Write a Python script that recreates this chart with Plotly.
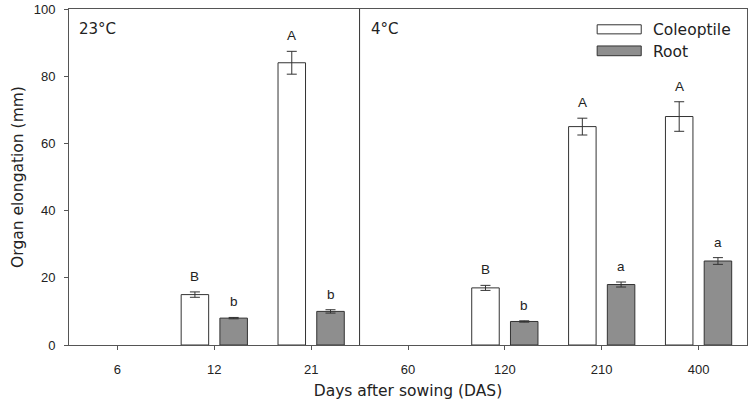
import plotly.graph_objects as go

categories = ["6", "12", "21", "60", "120", "210", "400"]
coleoptile = [None, 15, 84, None, 17, 65, 68]
coleoptile_err = [None, 0.8, 3.4, None, 0.75, 2.5, 4.4]
root = [None, 8, 10, None, 7, 18, 25]
root_err = [None, 0.2, 0.5, None, 0.2, 0.75, 1.0]
coleoptile_letters = [None, "B", "A", None, "B", "A", "A"]
root_letters = [None, "b", "b", None, "b", "a", "a"]
panels = ["23°C", "4°C"]
series_names = ["Coleoptile", "Root"]

FONT = "Liberation Sans, Arial, sans-serif"
WIDE = "DejaVu Sans, Liberation Sans, sans-serif"
TXT = "#222222"
AX = "#555555"
EDGE = "#333333"
ROOT_FILL = "#8e8e8e"

fig = go.Figure()
fig.add_bar(
    x=categories, y=coleoptile, name=series_names[0],
    marker=dict(color="white", line=dict(color=EDGE, width=1)),
    error_y=dict(type="data", array=coleoptile_err, color=EDGE, thickness=1, width=5),
)
fig.add_bar(
    x=categories, y=root, name=series_names[1],
    marker=dict(color=ROOT_FILL, line=dict(color=EDGE, width=1)),
    error_y=dict(type="data", array=root_err, color=EDGE, thickness=1, width=5),
)

annotations = []
for i, c in enumerate(categories):
    for vals, errs, letters, off in ((coleoptile, coleoptile_err, coleoptile_letters, -19.5),
                                     (root, root_err, root_letters, 19.5)):
        if vals[i] is None:
            continue
        annotations.append(dict(
            x=i, y=vals[i] + errs[i], xref="x", yref="y", text=letters[i],
            showarrow=False, xanchor="center", yanchor="bottom", xshift=off, yshift=6,
            font=dict(family=FONT, size=13.5, color=TXT),
        ))

# panel labels
annotations.append(dict(x=0.012, y=0.94, xref="x domain", yref="y domain", text=panels[0],
                        showarrow=False, xanchor="left", yanchor="middle",
                        font=dict(family=WIDE, size=15, color=TXT)))
annotations.append(dict(x=(369 - 69) / 679, y=0.94, xref="x domain", yref="y domain", text=panels[1],
                        showarrow=False, xanchor="left", yanchor="middle",
                        font=dict(family=WIDE, size=15, color=TXT)))

# legend texts
annotations.append(dict(x=0.859, y=0.938, xref="x domain", yref="y domain", text=series_names[0],
                        showarrow=False, xanchor="left", yanchor="middle",
                        font=dict(family=WIDE, size=15.5, color=TXT)))
annotations.append(dict(x=0.859, y=0.872, xref="x domain", yref="y domain", text=series_names[1],
                        showarrow=False, xanchor="left", yanchor="middle",
                        font=dict(family=WIDE, size=15.5, color=TXT)))

shapes = [
    dict(type="line", xref="x", yref="y domain", x0=2.5, x1=2.5, y0=0, y1=1,
         line=dict(color=EDGE, width=1)),
    dict(type="rect", xref="x domain", yref="y domain", x0=0.779, x1=0.844, y0=0.926, y1=0.953,
         fillcolor="white", line=dict(color=EDGE, width=1)),
    dict(type="rect", xref="x domain", yref="y domain", x0=0.779, x1=0.844, y0=0.861, y1=0.890,
         fillcolor=ROOT_FILL, line=dict(color=EDGE, width=1)),
]

fig.update_layout(
    width=750, height=409,
    margin=dict(l=69, r=2, t=5, b=64),
    paper_bgcolor="white", plot_bgcolor="white",
    barmode="group", bargap=0.2, bargroupgap=0.29,
    showlegend=False,
    font=dict(family=FONT, size=13, color=TXT),
    annotations=annotations, shapes=shapes,
)
fig.update_xaxes(
    type="category", range=[-0.5, 6.5], categoryorder="array", categoryarray=categories,
    showline=True, linecolor=AX, linewidth=1, mirror=True,
    ticks="outside", ticklen=4, tickcolor=AX, ticklabelstandoff=8,
    showgrid=False, zeroline=False,
    tickfont=dict(family=FONT, size=13, color=TXT),
    title=dict(text="Days after sowing (DAS)", font=dict(family=WIDE, size=15.5, color=TXT), standoff=9),
)
fig.update_yaxes(
    range=[0, 100], dtick=20,
    showline=True, linecolor=AX, linewidth=1, mirror=True,
    ticks="outside", ticklen=4, tickcolor=AX, ticklabelstandoff=6,
    ticklabeloverflow="allow",
    showgrid=False, zeroline=False,
    tickfont=dict(family=FONT, size=13, color=TXT),
    title=dict(text="Organ elongation (mm)", font=dict(family=WIDE, size=15.5, color=TXT), standoff=6),
)

fig.write_html("out.html", config={"displayModeBar": False},
               post_script="document.body.style.margin='0';document.body.style.padding='0';")
